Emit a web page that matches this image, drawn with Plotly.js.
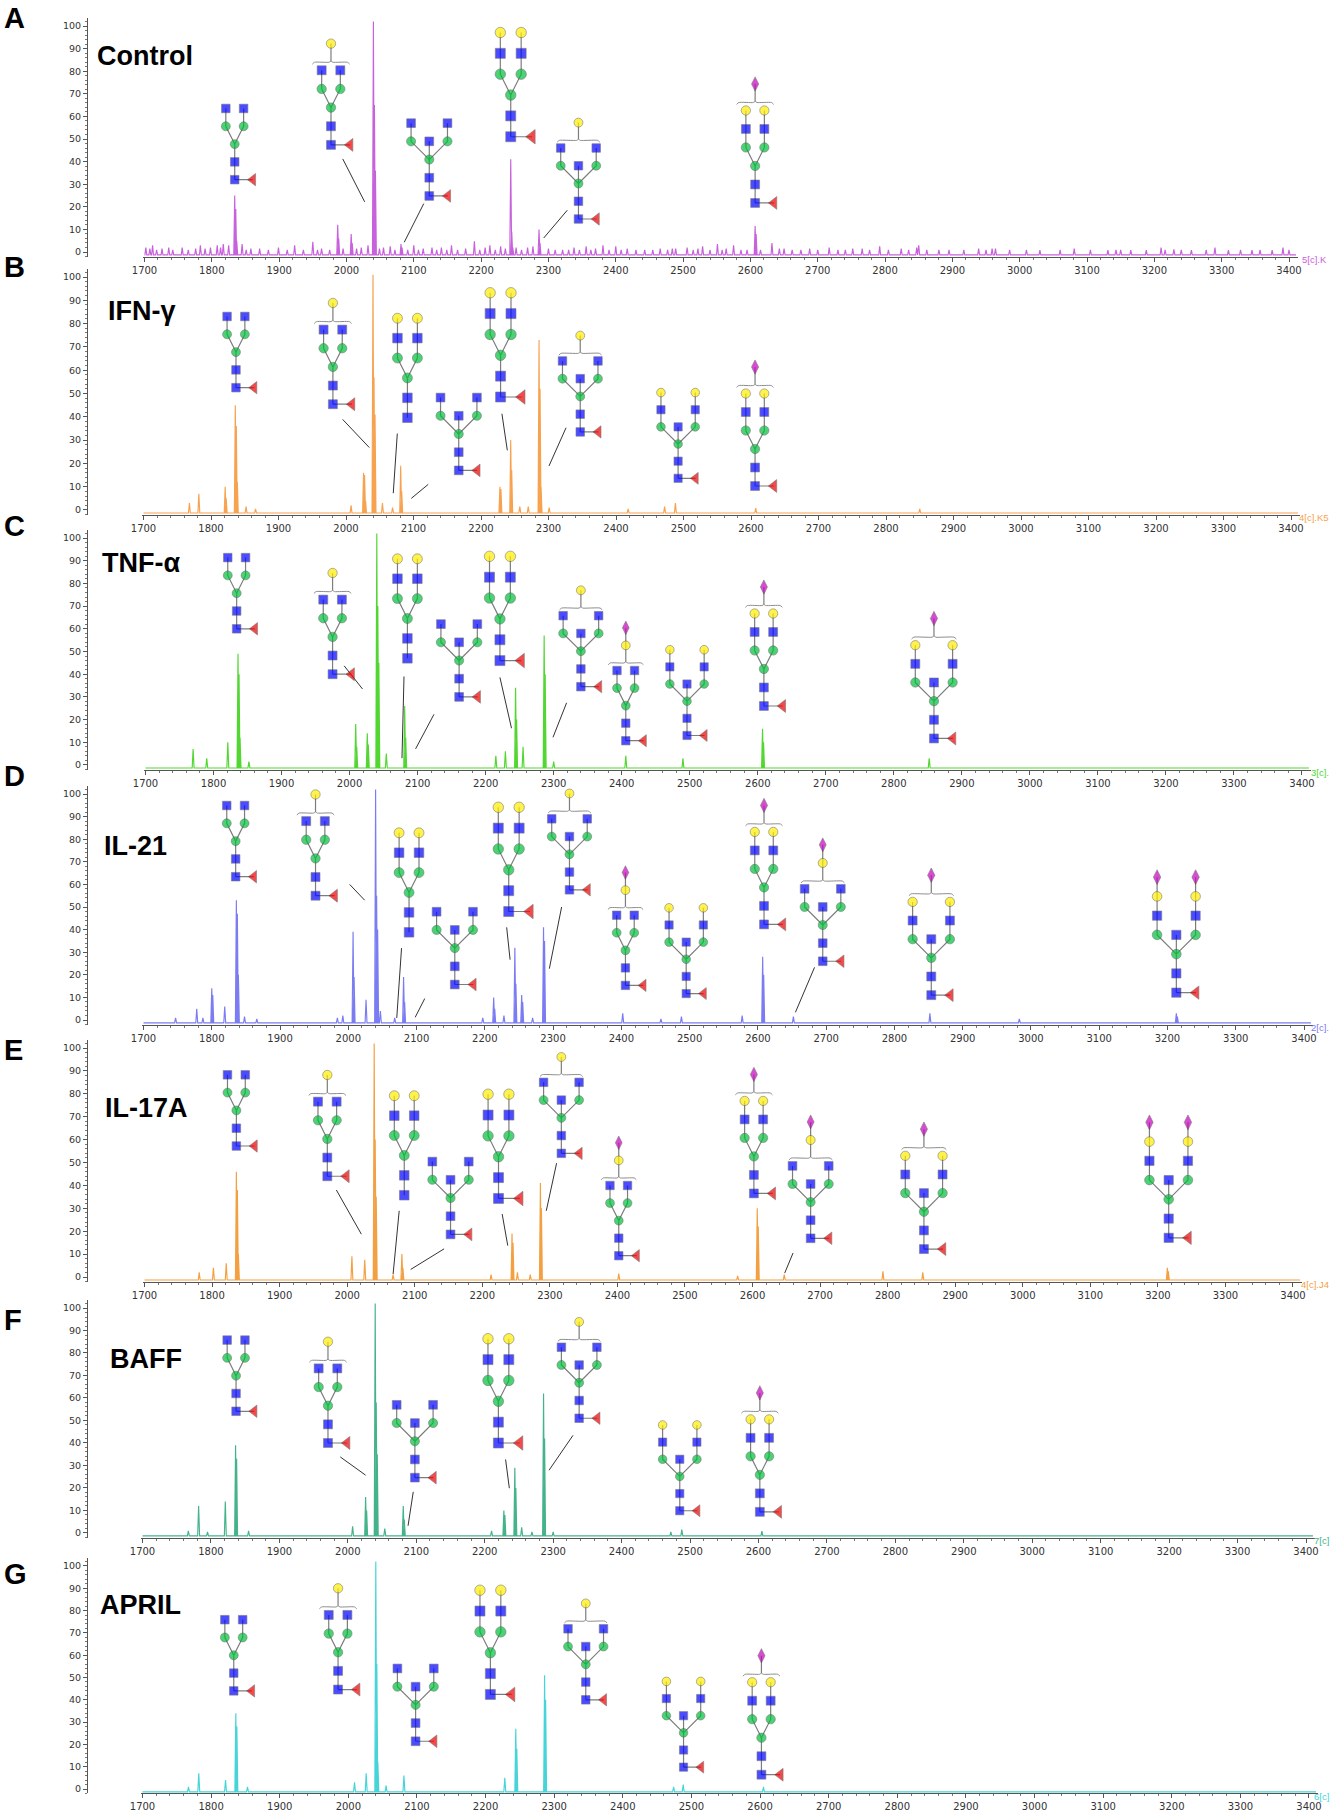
<!DOCTYPE html>
<html><head><meta charset="utf-8">
<script src="https://cdn.plot.ly/plotly-3.0.1.min.js"></script>
<style>html,body{margin:0;padding:0;background:#fff}#chart{width:1332px;height:1812px}</style>
</head><body><div id="chart"></div>
<script>
// ================= DATA =================
const panelLetters = ['A','B','C','D','E','F','G'];
const panelNames = ['Control','IFN-γ','TNF-α','IL-21','IL-17A','BAFF','APRIL'];
const runLabels = ['5[c].K','4[c].K5','3[c].','2[c].','4[c].J4','7[c]','6[c]'];

// peaks: [m/z, relative intensity %]
const peaksControl = [
 [1702,2],[1708,1.5],[1712,3],[1718,1],[1726,1.5],[1736,2],[1742,1],[1756,2],[1765,1],[1776,1.5],[1783,3],[1790,1.5],[1798,2],[1808,3],
 [1813,2],[1817,3.5],[1825,3],[1834,25],[1835.5,19],[1837,5],[1845,3.5],[1851,1],[1858,1.5],[1871,1.5],[1884,1],[1899,2],[1912,1],[1923,3],
 [1936,1],[1950,4.5],[1957,1],[1963,1.5],[1975,1],[1987,12],[1988.5,6],[1995,1.5],[2007,8],[2008.5,4],[2015,1.5],[2022,2],[2032,3],
 [2040,102],[2041.5,65],[2043,36],[2049,1.5],[2055,2],[2065,2.5],[2072,1],[2081,3.5],[2082.5,2],[2091,1],[2100,3],[2107,1],[2114,1.5],[2127,2],
 [2134,1],[2141,2],[2149,1],[2156,3],[2165,1],[2177,1.5],[2190,4.7],[2198,1],[2206,2],[2213,3],[2221,1],[2229,2.5],[2236,1.5],
 [2244,41],[2245.5,9],[2247,2],[2252,2],[2260,1],[2269,2],[2277,2.5],[2286,10],[2287.5,4],[2300,1.5],[2310,1],[2321,1],[2330,1],[2338,2],
 [2346,1],[2356,2.5],[2363,1],[2370,1.5],[2381,3],[2390,1],[2400,2.5],[2408,1],[2417,1.5],[2430,1],[2443,1],[2455,1],[2466,1.5],[2477,1],
 [2484,1.5],[2489,1.5],[2506,2],[2515,1],[2522,1.5],[2529,2.5],[2540,1],[2551,3.5],[2558,1],[2564,1.5],[2575,3],[2586,1],[2595,1],
 [2607,11.5],[2608.5,8],[2615,1],[2632,4],[2643,1.5],[2650,1.5],[2662,1],[2675,1],[2688,1.5],[2700,1],[2717,2],[2730,1],[2741,1],[2752,1.5],
 [2766,1.5],[2777,1],[2792,2.5],[2805,1],[2824,1.5],[2835,1],[2847,2],[2850,3],[2862,1],[2880,1],[2895,1],[2917,1],[2939,1.5],[2950,1],
 [2959,1.5],[2964,1.5],[2985,1],[3010,1],[3030,0.8],[3060,1],[3081,1.5],[3105,1],[3131,0.8],[3143,1],[3150,1],[3165,0.8],[3188,0.8],
 [3210,2],[3216,1],[3229,1.2],[3240,1],[3255,0.8],[3277,1],[3290,2],[3310,0.8],[3328,1],[3345,0.8],[3357,1],[3375,0.8],[3391,2],[3400,1]
];
const peaksIFNg = [
 [1768,3],[1782,7],[1821,10],[1822.5,5],[1836,45],[1837.5,36],[1839,12],[1852,1.5],[1866,0.5],[2007.5,2],[2026,16],[2027.5,15],[2029,4],
 [2040,101],[2041.5,57],[2043,41],[2054,3],[2069,1],[2081,19],[2082.5,8],[2228,10],[2229.5,9],[2244,30],[2245.5,17],[2257.5,1.5],
 [2270,1.5],[2286,73],[2287.5,52],[2289,10],[2301,1],[2418,0.5],[2472,1.5],[2488,3],[2607,0.8],[2850,0.5]
];
const peaksTNFa = [
 [1770,7],[1790,3],[1821,10],[1836,49],[1837.5,40],[1839,12],[1852,1.5],[2009,18],[2010.5,8],[2026,14],[2027.5,9],
 [2040,102],[2041.5,70],[2043,45],[2054,5],[2081,26],[2082.5,12],[2215,4],[2229,6],[2244,34],[2245.5,20],[2255,8],
 [2286,57],[2287.5,40],[2300,1.5],[2406,4],[2490,3],[2607,16],[2608.5,10],[2852,3]
];
const peaksIL21 = [
 [1747,1],[1778,5],[1787,1],[1800,14],[1801.5,11],[1819,6],[1836,53],[1837.5,47],[1839,20],[1848,1.5],[1866,0.5],[1984,1],[1992,2],
 [2007,39],[2008.5,19],[2026,9],[2040,102],[2041.5,55],[2043,40],[2047,4],[2068,1],[2081,19],[2082.5,8],[2197,1],[2213,10],[2214.5,5],
 [2228,2],[2244,32],[2245.5,16],[2254,11],[2255.5,8],[2270,1],[2286,41],[2287.5,35],[2402,3],[2458,0.5],[2488,1.5],[2577,2],
 [2607,28],[2608.5,20],[2652,1.5],[2852,3],[2983,0.5],[3213,3],[3214.5,1.5]
];
const peaksIL17A = [
 [1781,2],[1802,4],[1821,6],[1836,46],[1837.5,38],[1839,10],[2007,9],[2026,7.5],[2040,102],[2041.5,60],[2043,35],[2068,1],
 [2081,10],[2082.5,4],[2213,1],[2244,19],[2245.5,15],[2252,2],[2271,1],[2286,41],[2287.5,30],[2402,1.5],[2578,0.5],
 [2607,30],[2608.5,22],[2647,1],[2793,2.5],[2852,2],[3214,4],[3215.5,2.5]
];
const peaksBAFF = [
 [1767,1],[1782,12],[1795,0.5],[1821,14],[1836,39],[1837.5,33],[1855,1],[2007,3],[2026,16],[2027.5,10],[2040,102],[2041.5,58],
 [2043,35],[2054,2],[2081,12],[2082.5,6],[2210,1],[2228,10],[2229.5,8],[2244,29],[2245.5,20],[2254,2.5],[2269,0.5],[2286,62],
 [2287.5,42],[2300,0.5],[2472,0.5],[2488,1.5],[2605,0.8]
];
const peaksAPRIL = [
 [1767,1],[1782,7],[1821,4],[1836,34],[1837.5,28],[1853,1],[2009,3],[2026,7],[2040,102],[2041.5,56],[2043,12],[2055,1.5],
 [2081,6],[2228,5],[2244,27],[2245.5,18],[2286,51],[2287.5,40],[2474,1],[2488,2],[2605,1]
];
const spectra = [peaksControl, peaksIFNg, peaksTNFa, peaksIL21, peaksIL17A, peaksBAFF, peaksAPRIL];

// glycan annotations: [structure, m/z of reducing end, intensity level]
const glycansControl = [['G0F',1834,32],['G1F',1977,47.4],['G0FB',2123,24.8],['G2F',2244,51],['G1FB',2344.6,14.6],['G2FS1',2607,21.7]];
const glycansIFNg = [['G0F',1837,52.5],['G1F',1980.6,45.4],['G2',2091,39.6],['G0FB',2167,17],['G2F',2229,48.5],['G1FB',2347,33.5],['G2FB',2492,13.6],['G2FS1',2606,10.3]];
const glycansTNFa = [['G0F',1834,60],['G1F',1975,40],['G2',2085,47],['G0FB',2161,30],['G2F',2221,46],['G1FB',2340,34.5],['G1FS1',2406,10.7],['G2FB',2496,13],['G2FS1',2609,26],['G2FBS1',2859,11.7]];
const glycansIL21 = [['G0F',1835,63.4],['G1F',1952,55],['G2',2089,38.8],['G0FB',2156,15.7],['G2F',2235,48],['G1FB',2324,57.6],['G1FS1',2406,15.3],['G2FB',2495,11.7],['G2FS1',2609,42.3],['G1FBS1',2695,26],['G2FBS1',2854,11],['G2FBS2',3213,12.1]];
const glycansIL17A = [['G0F',1836,57.2],['G1F',1970.6,44],['G2',2084.5,35.7],['G0FB',2153,18.6],['G2F',2224,34.3],['G1FB',2317,54],['G1FS1',2402,9.3],['G2FS1',2602,36.5],['G1FBS1',2686,16.9],['G2FBS1',2853.7,12.2],['G2FBS2',3216,17.1]];
const glycansBAFF = [['G0F',1836.7,54.1],['G1F',1971,40],['G0FB',2098,24.6],['G2F',2220,40],['G1FB',2338,51],['G2FB',2485,9.9],['G2FS1',2602,9.4]];
const glycansAPRIL = [['G0F',1833,44],['G1F',1985,44.6],['G0FB',2098,21.4],['G2F',2207,42.4],['G1FB',2346,40],['G2FB',2488.5,9.8],['G2FS1',2602,6.4]];
const glycanSets = [glycansControl, glycansIFNg, glycansTNFa, glycansIL21, glycansIL17A, glycansBAFF, glycansAPRIL];

// leader lines from glycan to its peak: [m/z1, int1, m/z2, int2]
const leadsControl = [[1994.5,41.2,2027,22.2],[2114.8,21.4,2085.8,4.3],[2328,18.5,2293,6.2]];
const leadsIFNg = [[1995,38.9,2034.5,26.8],[2076,32.8,2070,7.2],[2121.8,11,2096.8,5],[2231,41.3,2239,25.6],[2326,35.3,2300.7,18.9]];
const leadsTNFa = [[1992,43.7,2019,33.5],[2080,39,2077,3],[2124,22.3,2097,7.1],[2221,38.6,2238,16.2],[2319,27.4,2299,12.2]];
const leadsIL21 = [[2002,60,2024,53],[2078,31.8,2071,0.9],[2112,9.5,2098,1.2],[2232,41,2237,26.7],[2312.5,50,2294.5,22.7],[2683,23.3,2655,3.4]];
const leadsIL17A = [[1984,38,2021,18.7],[2077,28.9,2068,1.3],[2143.5,12.3,2094,3.3],[2229.4,27.5,2237.7,13.7],[2310,49.7,2294.7,28.9],[2660,10.5,2647.6,1.7]];
const leadsBAFF = [[1989,33.8,2026,25.7],[2095.6,18.3,2088,3.2],[2230.5,32.7,2236,19.9],[2329,43.4,2294,27.9]];
const leadsAPRIL = [];
const leadSets = [leadsControl, leadsIFNg, leadsTNFa, leadsIL21, leadsIL17A, leadsBAFF, leadsAPRIL];

// ================= STYLE / LAYOUT =================
const W = 1332, H = 1812;
const PANELS = [
 {p100:26,  p0:252,  L:144.5, R:1289, color:'#c862dc'},
 {p100:277, p0:510,  L:143.5, R:1291, color:'#f7a24f'},
 {p100:538, p0:765,  L:145.5, R:1302, color:'#52d632'},
 {p100:794, p0:1020, L:143.5, R:1304, color:'#7b7cf2'},
 {p100:1048,p0:1277, L:144.5, R:1293, color:'#f3a043'},
 {p100:1308,p0:1533, L:142.5, R:1306, color:'#44b38a'},
 {p100:1566,p0:1789, L:142.5, R:1309, color:'#45d4d8'}
];
const AX_OVER = 9;   // axis line past the 3400 tick, px
const LETTER_Y = [18,267,526,776,1050,1320,1574];
const NAME_POS = [[95,56],[106,311],[100,563],[102,846],[103,1108],[108,1359],[98,1605]];
const YAX_X = 87;
const BASE = -1.3, HALFW = 1.4, YR = [-2, 103.5], XSTART = 1698;
const TXT_FONT = 'Liberation Sans, Arial, Helvetica, sans-serif';

// glycan drawing styles (S = level spacing in px)
const STRUCT = {
 G0F:   {bis:false, fuc:true,  arm:'N',   fl:'',   S:17.8},
 G1F:   {bis:false, fuc:true,  arm:'N',   fl:'G',  S:18.65},
 G2:    {bis:false, fuc:false, arm:'NG',  fl:'',   S:19.9},
 G0FB:  {bis:true,  fuc:true,  arm:'N',   fl:'',   S:18.2},
 G2F:   {bis:false, fuc:true,  arm:'NG',  fl:'',   S:20.85},
 G1FB:  {bis:true,  fuc:true,  arm:'N',   fl:'G',  S:17.75},
 G2FB:  {bis:true,  fuc:true,  arm:'NG',  fl:'',   S:17.15},
 G2FS1: {bis:false, fuc:true,  arm:'NG',  fl:'S',  S:18.5},
 G1FS1: {bis:false, fuc:true,  arm:'N',   fl:'GS', S:17.55},
 G1FBS1:{bis:true,  fuc:true,  arm:'N',   fl:'GS', S:18.1},
 G2FBS1:{bis:true,  fuc:true,  arm:'NG',  fl:'S',  S:18.65},
 G2FBS2:{bis:true,  fuc:true,  arm:'NGS', fl:'',   S:19.25}
};
const RES_STYLE = {
 N:{symbol:'square', color:'#0000ff', k:0.48},
 M:{symbol:'circle', color:'#00bf3a', k:0.5},
 G:{symbol:'circle', color:'#ffee00', k:0.5},
 S:{symbol:'diamond-tall', color:'#c800c0', k:0.55},
 F:{symbol:'triangle-left', color:'#ee0000', k:0.6}
};

function buildGlycan(code){
  const st = STRUCT[code], res = [], lines = [];
  res.push(['N',0,0]);
  if (st.fuc){ res.push(['F',1.02,0]); lines.push([[0,0],[1.02,0]]); }
  res.push(['N',0,1]); res.push(['M',0,2]);
  lines.push([[0,0],[0,1],[0,2]]);
  const dx = st.bis ? 1.0 : 0.5;
  if (st.bis){ res.push(['N',0,3]); lines.push([[0,2],[0,3]]); }
  [-1,1].forEach(sg=>{
    res.push(['M',sg*dx,3]);
    const ch=[[0,2],[sg*dx,3]];
    st.arm.split('').forEach((r,i)=>{res.push([r,sg*dx,4+i]); ch.push([sg*dx,4+i]);});
    lines.push(ch);
  });
  const T = 3 + st.arm.length;
  const br = [];
  if (st.fl){
    const bl = T + 0.43, hw = dx + (st.bis ? 0.2 : 0.5);
    br.push([[-hw,bl-0.1],[-hw+0.12,bl],[-0.1,bl],[0,bl+0.06],[0.1,bl],[hw-0.12,bl],[hw,bl-0.1]]);
    const ch=[[0,bl+0.06]];
    st.fl.split('').forEach((r,i)=>{res.push([r,0,T+1.43+i]); ch.push([0,T+1.43+i]);});
    lines.push(ch);
  }
  return {res, lines, br, S:st.S};
}

const traces = [], annotations = [];
const layout = {
  width:W, height:H, margin:{l:0,r:0,t:0,b:0}, showlegend:false,
  paper_bgcolor:'#fff', plot_bgcolor:'#fff', hovermode:false, annotations
};

PANELS.forEach((P, i)=>{
  const n = i+1, xa = 'x'+(n>1?n:''), ya = 'y'+(n>1?n:'');
  const kx = (P.R - P.L)/1700;           // px per Da
  const ky = (P.p0 - P.p100)/100;        // px per %
  const xs = P.L - (1700 - XSTART)*kx;
  const endPx = P.R + AX_OVER;
  const xEnd = XSTART + (endPx - xs)/kx;
  const botPx = P.p0 - YR[0]*ky, topPx = P.p100 - (YR[1]-100)*ky;
  layout['xaxis'+(n>1?n:'')] = {
    domain:[xs/W, endPx/W], range:[XSTART, xEnd], anchor:ya,
    showline:true, linecolor:'#555', linewidth:1, ticks:'outside', ticklen:4, tickcolor:'#555',
    tick0:0, dtick:100, tickfont:{family:'DejaVu Sans, Arial, sans-serif', size:10, color:'#333'},
    minor:{dtick:20, ticklen:2, ticks:'outside', tickcolor:'#777'},
    showgrid:false, zeroline:false, fixedrange:true
  };
  layout['yaxis'+(n>1?n:'')] = {
    domain:[1-botPx/H, 1-topPx/H], range:YR, anchor:'free', position:YAX_X/W,
    showline:true, linecolor:'#555', linewidth:1, ticks:'outside', ticklen:4, tickcolor:'#555',
    tick0:0, dtick:10, tickfont:{family:'DejaVu Sans, Arial, sans-serif', size:9.5, color:'#333'},
    minor:{dtick:2, ticklen:2, ticks:'outside', tickcolor:'#777'},
    showgrid:false, zeroline:false, fixedrange:true
  };

  // spectrum
  const pk = spectra[i].slice().sort((a,b)=>a[0]-b[0]);
  const sx=[XSTART+2], sy=[BASE];
  pk.forEach(([m,h])=>{ sx.push(m-HALFW, m, m+HALFW); sy.push(BASE, h, BASE); });
  sx.push(xEnd-3); sy.push(BASE);
  traces.push({type:'scatter', mode:'lines', x:sx, y:sy, xaxis:xa, yaxis:ya,
    line:{color:P.color, width:1.15}, cliponaxis:false, hoverinfo:'skip'});

  // glycans
  const lx=[], ly=[], bx=[], by=[], cx=[], cy=[];
  const mk = {}; Object.keys(RES_STYLE).forEach(k=>mk[k]={x:[],y:[],s:[]});
  glycanSets[i].forEach(([code, mz, it])=>{
    const g = buildGlycan(code);
    const X = ox => mz + ox*g.S/kx, Y = lv => it + lv*g.S/ky;
    g.lines.forEach(ch=>{ ch.forEach(([a,b])=>{lx.push(X(a)); ly.push(Y(b));}); lx.push(null); ly.push(null); });
    g.br.forEach(ch=>{ ch.forEach(([a,b])=>{bx.push(X(a)); by.push(Y(b));}); bx.push(null); by.push(null); });
    g.res.forEach(([r,a,b])=>{ mk[r].x.push(X(a)); mk[r].y.push(Y(b)); mk[r].s.push(RES_STYLE[r].k*g.S); });
  });
  leadSets[i].forEach(([m1,i1,m2,i2])=>{ cx.push(m1,m2,null); cy.push(i1,i2,null); });
  traces.push({type:'scatter', mode:'lines', x:cx, y:cy, xaxis:xa, yaxis:ya, line:{color:'#333', width:1}, hoverinfo:'skip', cliponaxis:false});
  traces.push({type:'scatter', mode:'lines', x:lx, y:ly, xaxis:xa, yaxis:ya, line:{color:'#7d7d7d', width:1.2}, hoverinfo:'skip', cliponaxis:false});
  traces.push({type:'scatter', mode:'lines', x:bx, y:by, xaxis:xa, yaxis:ya, line:{color:'#8c8c8c', width:1, shape:'spline', smoothing:0.6}, hoverinfo:'skip', cliponaxis:false});
  Object.keys(RES_STYLE).forEach(r=>{
    if(!mk[r].x.length) return;
    const s = RES_STYLE[r];
    traces.push({type:'scatter', mode:'markers', x:mk[r].x, y:mk[r].y, xaxis:xa, yaxis:ya,
      marker:{symbol:s.symbol, color:s.color, size:mk[r].s, line:{color:'#444', width:0.6}},
      hoverinfo:'skip', cliponaxis:false});
  });

  // texts
  annotations.push({xref:'paper', yref:'paper', x:2/W, y:1-LETTER_Y[i]/H, xanchor:'left', yanchor:'middle',
    text:'<b>'+panelLetters[i]+'</b>', showarrow:false,
    font:{family:TXT_FONT, size:29, color:'#000'}});
  annotations.push({xref:'paper', yref:'paper', x:NAME_POS[i][0]/W, y:1-NAME_POS[i][1]/H, xanchor:'left', yanchor:'middle',
    text:'<b>'+panelNames[i]+'</b>', showarrow:false,
    font:{family:TXT_FONT, size:27, color:'#000'}});
  // run label just right of the axis end, kept inside the page
  const labX = i === 0 ? (endPx+2)/W : 1331/W;
  annotations.push({xref:'paper', yref:'paper', x:labX, y:1-botPx/H, xanchor:i===0?'left':'right', yanchor:'middle', yshift:-3,
    text:runLabels[i], showarrow:false,
    font:{family:TXT_FONT, size:9.5, color:P.color}});
});

Plotly.newPlot('chart', traces, layout, {staticPlot:true, displayModeBar:false});
</script>
</body></html>
